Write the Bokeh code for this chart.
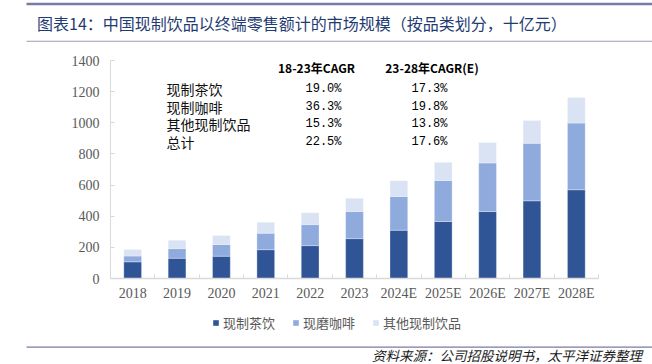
from bokeh.plotting import figure
from bokeh.layouts import column
from bokeh.models import (ColumnDataSource, FixedTicker, Label, Legend, LegendItem, Range1d)
from bokeh.embed import file_html
from bokeh.resources import INLINE

# ---------------- data ----------------
years = ["2018", "2019", "2020", "2021", "2022", "2023",
         "2024E", "2025E", "2026E", "2027E", "2028E"]
tea = [107, 130, 143, 185, 211, 256, 310, 366, 430, 499, 570]
coffee = [37, 62, 75, 106, 135, 174, 217, 264, 312, 369, 428]
other = [42, 54, 58, 71, 76, 86, 101, 116, 132, 146, 165]
series_names = ["现制茶饮", "现磨咖啡", "其他现制饮品"]

table_rows = ["现制茶饮", "现制咖啡", "其他现制饮品", "总计"]
table_headers = ["18-23年CAGR", "23-28年CAGR(E)"]
cagr_18_23 = ["19.0%", "36.3%", "15.3%", "22.5%"]
cagr_23_28 = ["17.3%", "19.8%", "13.8%", "17.6%"]

title_text = "图表14：中国现制饮品以终端零售额计的市场规模（按品类划分，十亿元）"
source_text = "资料来源：公司招股说明书，太平洋证券整理"

y_ticks = [0, 200, 400, 600, 800, 1000, 1200, 1400]

# ---------------- layout constants ----------------
W = 652
HEAD_H, MAIN_H, FOOT_H = 45, 260, 59
MAIN_TOP = HEAD_H
FL, FR, FT, FB = 110, 54, 15, 27            # main figure borders
FW, FH = W - FL - FR, MAIN_H - FT - FB
YMAX = 1400
colors = ["#2F5597", "#8FAADC", "#DAE3F3"]
CJK = "Noto Sans CJK SC"
LINE_COL = "#7A7AA3"


def X(px):
    return -0.5 + (px - FL) / FW * len(years)


def Y(py):  # py in page pixels
    return (MAIN_TOP + FT + FH - py) / FH * YMAX


def blank(h):
    f = figure(width=W, height=h, output_backend="svg", toolbar_location=None,
               x_range=Range1d(0, W), y_range=Range1d(h, 0),
               x_axis_type=None, y_axis_type=None, title=None,
               min_border=0, min_border_left=0, min_border_right=0,
               min_border_top=0, min_border_bottom=0)
    f.frame_align = False
    f.outline_line_color = None
    f.grid.visible = False
    f.background_fill_color = "white"
    f.border_fill_color = "white"
    return f


xs = list(range(len(years)))
src = ColumnDataSource(dict(x=xs, tea=tea, coffee=coffee, other=other))

# ---------------- header ----------------
head = blank(HEAD_H)
head.quad(left=[26], right=[W], top=[2.3], bottom=[4.8], color=LINE_COL, line_color=None)
head.quad(left=[26], right=[W], top=[40.2], bottom=[41.2], color="#9A9ABD", line_color=None)
head.add_layout(Label(x=36.5, y=22, text=title_text, text_align="left",
                      text_baseline="middle", text_font=CJK, text_font_size="16px",
                      text_color="#1F3B73"))

# ---------------- main chart ----------------
p = figure(width=W, height=MAIN_H, output_backend="svg", toolbar_location=None,
           x_range=Range1d(-0.5, len(years) - 0.5), y_range=Range1d(0, YMAX),
           title=None,
           min_border_left=FL, min_border_right=FR,
           min_border_top=FT, min_border_bottom=FB)
p.frame_align = False
p.outline_line_color = None
p.grid.visible = False
p.background_fill_color = "white"
p.border_fill_color = "white"

p.vbar_stack(["tea", "coffee", "other"], x="x", width=0.4, source=src,
             color=colors, line_color="white", line_width=0.6, line_alpha=0.5)

xa = p.xaxis[0]
xa.ticker = FixedTicker(ticks=xs, minor_ticks=[i - 0.5 for i in range(len(years) + 1)])
xa.major_label_overrides = {i: y for i, y in enumerate(years)}
xa.major_tick_in = 0
xa.major_tick_out = 0
xa.minor_tick_in = 4
xa.minor_tick_out = 0
xa.minor_tick_line_color = "#D9D9D9"
xa.axis_line_color = "#D9D9D9"
xa.axis_line_width = 1.5
xa.major_label_standoff = 7
xa.major_label_text_font = "Liberation Serif"
xa.major_label_text_font_size = "14px"
xa.major_label_text_color = "#595959"

ya = p.yaxis[0]
ya.ticker = FixedTicker(ticks=y_ticks, minor_ticks=[])
ya.major_tick_in = 4
ya.major_tick_out = 0
ya.major_tick_line_color = "#D9D9D9"
ya.axis_line_color = "#D9D9D9"
ya.axis_line_width = 1
ya.major_label_standoff = 11
ya.major_label_text_font = "Liberation Serif"
ya.major_label_text_font_size = "14px"
ya.major_label_text_color = "#595959"

# CAGR table
hx = [316, 431.5]
for j, h in enumerate(table_headers):
    p.add_layout(Label(x=X(hx[j]), y=Y(66.7), text=h, text_align="center",
                       text_baseline="middle", text_font=CJK, text_font_style="bold",
                       text_font_size="12px", text_color="#000000"))
row_y = [88, 106, 123.5, 141]
for i, name in enumerate(table_rows):
    p.add_layout(Label(x=X(166), y=Y(row_y[i]), text=name, text_align="left",
                       text_baseline="middle", text_font=CJK,
                       text_font_size="14px", text_color="#111111"))
    p.add_layout(Label(x=X(323), y=Y(row_y[i]), text=cagr_18_23[i], text_align="center",
                       text_baseline="middle", text_font="Liberation Mono",
                       text_font_size="12px", text_color="#000000"))
    p.add_layout(Label(x=X(429), y=Y(row_y[i]), text=cagr_23_28[i], text_align="center",
                       text_baseline="middle", text_font="Liberation Mono",
                       text_font_size="12px", text_color="#000000"))

# ---------------- footer (legend, line, source) ----------------
foot = blank(FOOT_H)
# legend keys: same stacked series, hidden, only used for the legend swatches
keys = foot.vbar_stack(["tea", "coffee", "other"], x="x", width=0.4, source=src,
                       color=colors, line_color=None, visible=False)
legend = Legend(items=[LegendItem(label=n, renderers=[r]) for n, r in zip(series_names, keys)],
                orientation="horizontal", location=(212, FOOT_H - 27))
legend.border_line_color = None
legend.background_fill_alpha = 0
legend.inactive_fill_alpha = 0
legend.padding = 0
legend.margin = 0
legend.spacing = 17
legend.label_standoff = 4
legend.glyph_width = 7
legend.glyph_height = 7
legend.label_height = 16
legend.label_text_font = CJK
legend.label_text_font_size = "13px"
legend.label_text_color = "#595959"
foot.add_layout(legend)
foot.quad(left=[26], right=[W], top=[41], bottom=[42.3], color=LINE_COL, line_color=None)
foot.add_layout(Label(x=641.5, y=49, text=source_text, text_align="right",
                      text_baseline="middle", text_font=CJK, text_font_size="13.5px",
                      text_font_style="italic", text_color="#1A1A1A"))

layout = column(head, p, foot, spacing=0)
open("out.html", "w").write(file_html(layout, INLINE))
